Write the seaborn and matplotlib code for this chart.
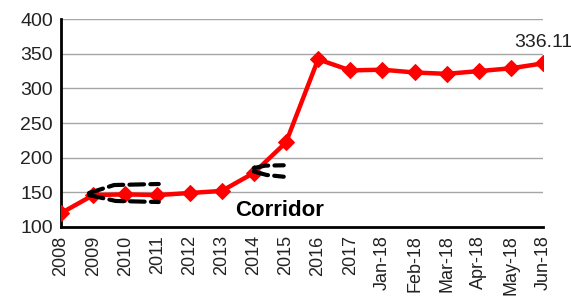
import pandas as pd
import matplotlib.pyplot as plt
import seaborn as sns

periods = ["2008", "2009", "2010", "2011", "2012", "2013", "2014", "2015",
           "2016", "2017", "Jan-18", "Feb-18", "Mar-18", "Apr-18", "May-18", "Jun-18"]
values = [120, 146, 147, 146, 149, 152, 178, 222,
          342, 326, 327, 323, 321, 325, 329, 336.11]

df = pd.DataFrame({"Period": periods, "Value": values})

sns.set_style("white")
plt.rcParams["font.family"] = ["Liberation Sans", "DejaVu Sans"]

fig = plt.figure(figsize=(5.71, 2.99), dpi=100)
ax = fig.add_axes([0.107, 0.241, 0.844, 0.695])

sns.lineplot(data=df, x="Period", y="Value", sort=False, ax=ax,
             color="#ff0000", linewidth=3.2, marker="D", markersize=8,
             markeredgecolor="#ff0000", zorder=3)

ax.set_xlim(0, len(periods) - 1)
ax.set_ylim(100, 400)
ax.set_yticks(range(100, 401, 50))
ax.yaxis.grid(True, color="#a6a6a6", linewidth=1)
ax.xaxis.grid(False)
ax.set_xlabel("")
ax.set_ylabel("")
ax.set_xticks(range(len(periods)))
ax.set_xticklabels(periods, rotation=90, fontsize=13, color="#222222")
ax.tick_params(axis="y", labelsize=14, colors="#222222", length=0, pad=6)
ax.tick_params(axis="x", length=0, pad=6)
for s in ["top", "right"]:
    ax.spines[s].set_visible(False)
for s in ["left", "bottom"]:
    ax.spines[s].set_color("black")
    ax.spines[s].set_linewidth(2)

# last value label
ax.annotate(f"{values[-1]:.2f}", (len(periods) - 1, values[-1]),
            xytext=(0, 9), textcoords="offset points", ha="center", va="bottom",
            fontsize=14, color="#222222", annotation_clip=False)

# dashed "corridor" sketches
dash = dict(color="black", linewidth=3, linestyle=(0, (3.5, 1.5)),
            solid_capstyle="round", dash_capstyle="round", zorder=4)
ax.plot([0.87, 1.65, 3.04], [149, 160.5, 162], **dash)
ax.plot([0.87, 1.7, 3.04], [146, 137.5, 136], **dash)
ax.plot([6.0, 6.35, 6.93], [185, 188.5, 189], **dash)
ax.plot([6.0, 6.4, 6.93], [180, 175, 172.5], **dash)
ax.text(6.8, 124, "Corridor", ha="center", va="center", fontsize=16,
        fontweight="bold", color="black")

fig.savefig("out.png", dpi=100)
